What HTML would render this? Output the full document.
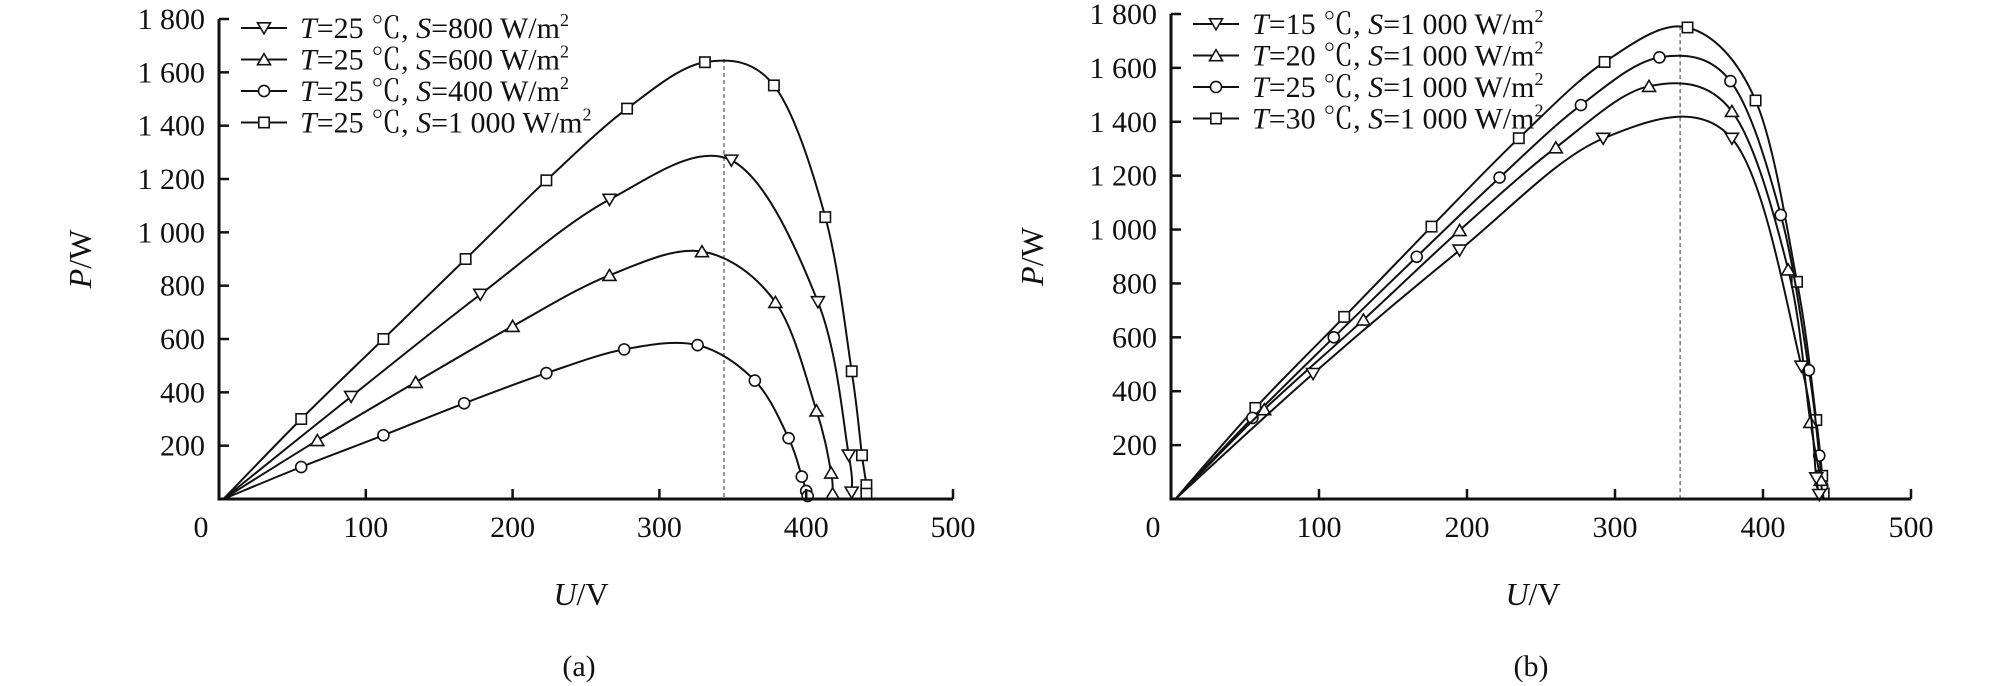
<!DOCTYPE html>
<html><head><meta charset="utf-8"><style>
html,body{margin:0;padding:0;background:#fff;}
svg{display:block;}
text{font-family:"Liberation Serif","Noto Serif CJK SC",serif;fill:#111;}
</style></head><body>
<svg id="fig" width="2008" height="686" viewBox="0 0 2008 686"></svg>
<script>
// ---- data: chart (a) ----
const aS1000V=[56,112,168,223,278,331,378,413,431,438,441,441];
const aS1000P=[300,600,900,1195,1464,1638,1551,1057,479,164,52,20];
const aS800V=[90,178,266,349,408,429,431];
const aS800P=[384,767,1123,1270,739,164,25];
const aS600V=[67,134,200,266,329,379,407,417,418];
const aS600P=[220,438,648,839,928,738,331,98,20];
const aS400V=[56,112,167,223,276,326,365,388,397,400,401];
const aS400P=[120,239,359,472,561,577,444,228,84,30,11];
const aLabels=["S=800","S=600","S=400","S=1 000"];
// ---- data: chart (b) ----
const bT30V=[57,117,176,235,293,349,395,423,436,440,441];
const bT30P=[338,676,1011,1339,1622,1750,1479,806,293,86,20];
const bT25V=[55,110,166,222,277,330,378,412,431,438,440];
const bT25P=[301,600,899,1193,1462,1639,1551,1054,478,161,49];
const bT20V=[63,130,195,260,323,379,417,432,439];
const bT20P=[332,665,997,1304,1532,1439,851,285,70];
const bT15V=[96,195,292,379,426,436,438];
const bT15P=[465,923,1338,1338,492,78,16];
const xTicks=[0,100,200,300,400,500];
const yTicks=[200,400,600,800,1000,1200,1400,1600,1800];
const yTickLabels=["200","400","600","800","1 000","1 200","1 400","1 600","1 800"];
const peakV=344;

const NS="http://www.w3.org/2000/svg";
const svg=document.getElementById('fig');
function mk(tag,attrs,parent){const e=document.createElementNS(NS,tag);for(const k in attrs)e.setAttribute(k,attrs[k]);(parent||svg).appendChild(e);return e;}

function spline(pts){
  let d="M"+pts[0][0]+","+pts[0][1];
  for(let i=0;i<pts.length-1;i++){
    const p0=pts[Math.max(0,i-1)],p1=pts[i],p2=pts[i+1],p3=pts[Math.min(pts.length-1,i+2)];
    const t=1/6;
    const c1=[p1[0]+(p2[0]-p0[0])*t,p1[1]+(p2[1]-p0[1])*t];
    const c2=[p2[0]-(p3[0]-p1[0])*t,p2[1]-(p3[1]-p1[1])*t];
    d+=" C"+c1[0].toFixed(1)+","+c1[1].toFixed(1)+" "+c2[0].toFixed(1)+","+c2[1].toFixed(1)+" "+p2[0].toFixed(1)+","+p2[1].toFixed(1);
  }
  return d;
}
function marker(g,type,x,y){
  const s=6.5;let e;
  if(type==='down') e=mk('polygon',{points:`${x-s},${y-s*0.8} ${x+s},${y-s*0.8} ${x},${y+s*0.9}`},g);
  else if(type==='up') e=mk('polygon',{points:`${x-s},${y+s*0.8} ${x+s},${y+s*0.8} ${x},${y-s*0.9}`},g);
  else if(type==='circle') e=mk('circle',{cx:x,cy:y,r:s*0.85},g);
  else e=mk('rect',{x:x-s*0.8,y:y-s*0.8,width:s*1.6,height:s*1.6},g);
  e.setAttribute('fill','#fff');e.setAttribute('stroke','#111');e.setAttribute('stroke-width','1.6');
  
  
}
function chart(cfg){
  const g=mk('g',{});
  
  
  const X=v=>cfg.x0+v*(cfg.x1-cfg.x0)/500;
  const Y=p=>cfg.y0-p*(cfg.y0-cfg.y1)/1800;
  // dashed peak line
  const pl=mk('line',{x1:X(peakV),x2:X(peakV),y1:Y(cfg.peakTop),y2:cfg.y0,stroke:'#555','stroke-width':1.2,'stroke-dasharray':'4,3'},g);
  
  // series
  cfg.series.forEach((s,si)=>{
    const sg=mk('g',{},g);
    
    
    const pts=[[X(3),Y(0)]].concat(s.v.map((v,i)=>[X(v),Y(s.p[i])]));
    pts.push([X(s.v[s.v.length-1]+1),Y(0)]);
    const path=mk('path',{d:spline(pts),fill:'none',stroke:'#111','stroke-width':2},sg);
    
    s.v.forEach((v,i)=>marker(sg,s.m,X(v),Y(s.p[i])));
  });
  // axes
  const ax=mk('path',{d:`M${cfg.x0},${cfg.y1} V${cfg.y0} H${cfg.x1}`,fill:'none',stroke:'#111','stroke-width':3},g);
  
  xTicks.forEach(t=>{
    const l=mk('line',{x1:X(t),x2:X(t),y1:cfg.y0,y2:cfg.y0-10,stroke:'#111','stroke-width':2.5},g);
    
    const tx=mk('text',{x:t===0?X(t)-18:X(t),y:cfg.y0+38,'font-size':30,'text-anchor':'middle'},g);
    tx.textContent=String(t);
    
  });
  yTicks.forEach((t,i)=>{
    const l=mk('line',{x1:cfg.x0,x2:cfg.x0+10,y1:Y(t),y2:Y(t),stroke:'#111','stroke-width':2.5},g);
    
    const tx=mk('text',{x:cfg.x0-14,y:Y(t)+10,'font-size':30,'text-anchor':'end'},g);
    tx.textContent=yTickLabels[i];
    
  });
  // legend
  cfg.legend.forEach((lg,i)=>{
    const ly=cfg.ly+i*31.5;
    const lgG=mk('g',{},g);
    
    
    mk('line',{x1:cfg.x0+22,x2:cfg.x0+68,y1:ly,y2:ly,stroke:'#111','stroke-width':2},lgG);
    marker(lgG,lg.m,cfg.x0+45,ly);
    const tx=mk('text',{x:cfg.x0+81,y:ly+10,'font-size':30},lgG);
    tx.innerHTML=`<tspan font-style="italic">T</tspan>=${lg.t} ℃, <tspan font-style="italic">S</tspan>=${lg.s} W/m<tspan font-size="18" dy="-12">2</tspan>`;
  });
  // titles
  const yt=mk('text',{x:0,y:0,'font-size':32,'text-anchor':'middle',transform:`translate(${cfg.x0-128},${(cfg.y0+cfg.y1)/2}) rotate(-90)`},g);
  yt.innerHTML='<tspan font-style="italic">P</tspan>/W';
  
  const xt=mk('text',{x:cfg.x0+362,y:cfg.y0+106,'font-size':32,'text-anchor':'middle'},g);
  xt.innerHTML='<tspan font-style="italic">U</tspan>/V';
  
  const cap=mk('text',{x:cfg.x0+360,y:cfg.y0+177,'font-size':30,'text-anchor':'middle'},g);
  cap.textContent=cfg.caption;
  
}
chart({name:'chart-a',x0:219,x1:953,y0:499,y1:19,peakTop:1650,ly:28,caption:'(a)',
  series:[{key:'s1000',v:aS1000V,p:aS1000P,m:'square'},{key:'s800',v:aS800V,p:aS800P,m:'down'},
          {key:'s600',v:aS600V,p:aS600P,m:'up'},{key:'s400',v:aS400V,p:aS400P,m:'circle'}],
  legend:[{m:'down',t:'25',s:'800'},{m:'up',t:'25',s:'600'},{m:'circle',t:'25',s:'400'},{m:'square',t:'25',s:'1 000'}]});
chart({name:'chart-b',x0:1171,x1:1911,y0:499,y1:14,peakTop:1755,ly:24,caption:'(b)',
  series:[{key:'t30',v:bT30V,p:bT30P,m:'square'},{key:'t25',v:bT25V,p:bT25P,m:'circle'},
          {key:'t20',v:bT20V,p:bT20P,m:'up'},{key:'t15',v:bT15V,p:bT15P,m:'down'}],
  legend:[{m:'down',t:'15',s:'1 000'},{m:'up',t:'20',s:'1 000'},{m:'circle',t:'25',s:'1 000'},{m:'square',t:'30',s:'1 000'}]});
</script>
</body></html>
